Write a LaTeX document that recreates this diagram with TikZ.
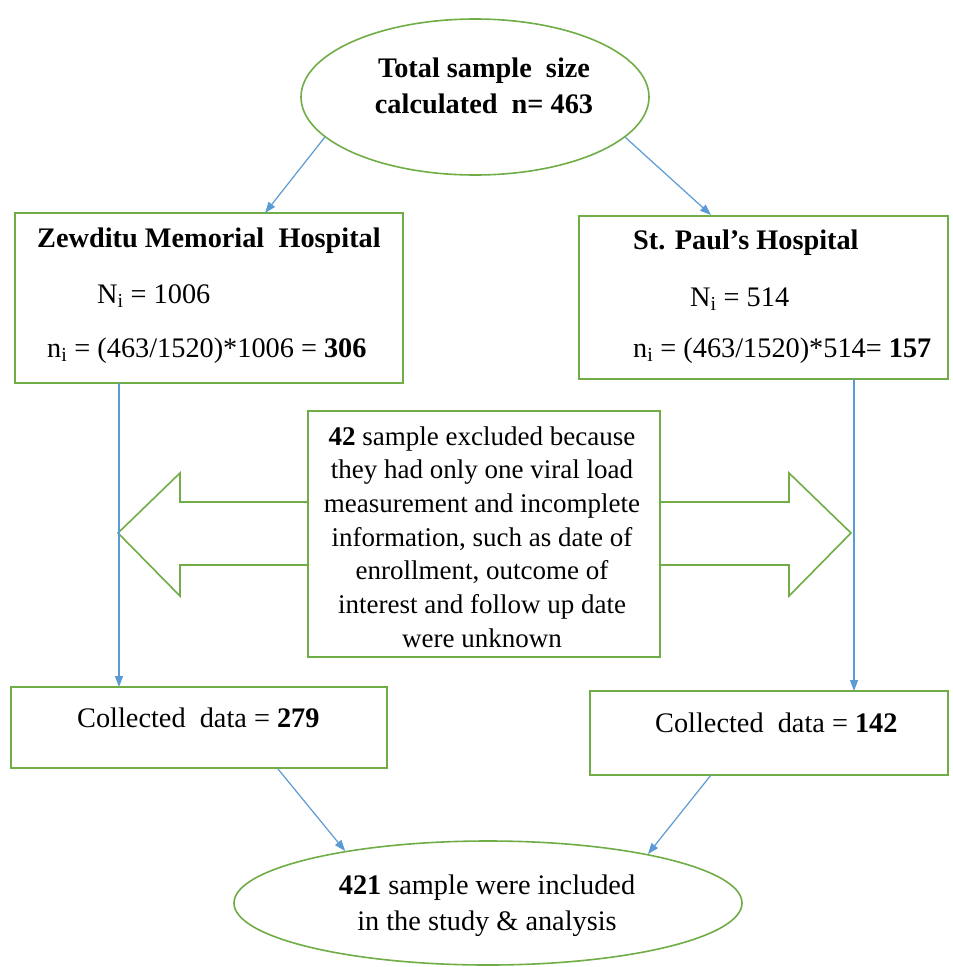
\documentclass[tikz,border=0pt]{standalone}
\usepackage{fontspec}
\setmainfont{Liberation Serif}
\usetikzlibrary{shapes.geometric,arrows.meta}
\definecolor{grn}{HTML}{70AD47}
\definecolor{blu}{HTML}{5B9BD5}
\begin{document}
\begin{tikzpicture}[x=1pt,y=-1pt,
  gbox/.style={draw=grn,line width=1.6pt,rectangle,inner sep=0pt},
  gell/.style={draw=grn,line width=1.6pt,ellipse,inner sep=0pt},
  arr/.style={draw=blu,line width=1.2pt,-{Triangle[length=11pt,width=8pt]}},
  big/.style={font=\fontsize{28.3}{36}\selectfont},
  bigb/.style={font=\bfseries\fontsize{28.3}{36}\selectfont},
  lt/.style={inner sep=0pt,anchor=base west},
]
\useasboundingbox[fill=white] (0,0) rectangle (953,967);

% top ellipse
\node[gell,minimum width=348pt,minimum height=156pt] (top) at (475,97) {};
\node[inner sep=0pt,align=center,bigb] (topt) at (484,86) {Total sample\enskip size\\calculated\enskip n= 463};

% hospital boxes
\node[gbox,minimum width=388pt,minimum height=170pt] (zm) at (209,298) {};
\node[lt,bigb] (zm1) at (37,247) {Zewditu Memorial\enskip Hospital};
\node[lt,big] (zm2) at (97,303) {N\textsubscript{i} = 1006};
\node[lt,big] (zm3) at (47,357) {n\textsubscript{i} = (463/1520)*1006 = \textbf{306}};

\node[gbox,minimum width=369pt,minimum height=163pt] (sp) at (763.5,297.5) {};
\node[lt,bigb] (sp1) at (633,249) {St. Paul’s Hospital};
\node[lt,big] (sp2) at (690,306) {N\textsubscript{i} = 514};
\node[lt,big] (sp3) at (633,357) {n\textsubscript{i} = (463/1520)*514= \textbf{157}};

% arrows from top ellipse
\coordinate (a1) at (265,213);
\coordinate (a2) at (711,215);
\draw[arr] (top.195) -- (a1);
\draw[arr] (top.-15) -- (a2);

% middle double arrow
\draw[draw=grn,line width=1.6pt,line join=miter]
  (308,502) -- (180,502) -- (180,473) -- (118,533) -- (180,596) -- (180,565) -- (308,565);
\draw[draw=grn,line width=1.6pt,line join=miter]
  (660,502) -- (789,502) -- (789,473) -- (851,533) -- (789,596) -- (789,565) -- (660,565);
\node[gbox,fill=white,minimum width=352pt,minimum height=246pt] (ex) at (484,534) {};
\node[inner sep=0pt,align=center,font=\fontsize{27}{33.7}\selectfont] (ext) at (482,537)
 {\textbf{42} sample excluded because\\they had only one viral load\\measurement and incomplete\\information, such as date of\\enrollment, outcome of\\interest and follow up date\\were unknown};

% collected boxes
\node[gbox,minimum width=376pt,minimum height=81pt] (c1) at (199,727.5) {};
\node[lt,big] (c1t) at (77,727) {Collected\enskip data = \textbf{279}};
\node[gbox,minimum width=358pt,minimum height=84pt] (c2) at (769,733) {};
\node[lt,big] (c2t) at (655,732) {Collected\enskip data = \textbf{142}};

% vertical arrows
\coordinate (v1) at (119,383);
\coordinate (v2) at (119,687);
\coordinate (w1) at (854,379);
\coordinate (w2) at (854,691);
\draw[arr] (v1) -- (v2);
\draw[arr] (w1) -- (w2);

% bottom ellipse
\node[gell,minimum width=508pt,minimum height=124pt] (bot) at (488,903) {};
\node[inner sep=0pt,align=center,big] (bott) at (487,906) {\textbf{421} sample were included\\in the study \& analysis};

\coordinate (b1) at (278,769);
\coordinate (b2) at (711,775);
\draw[arr] (b1) -- (bot.160);
\draw[arr] (b2) -- (bot.17);
\end{tikzpicture}
\end{document}
